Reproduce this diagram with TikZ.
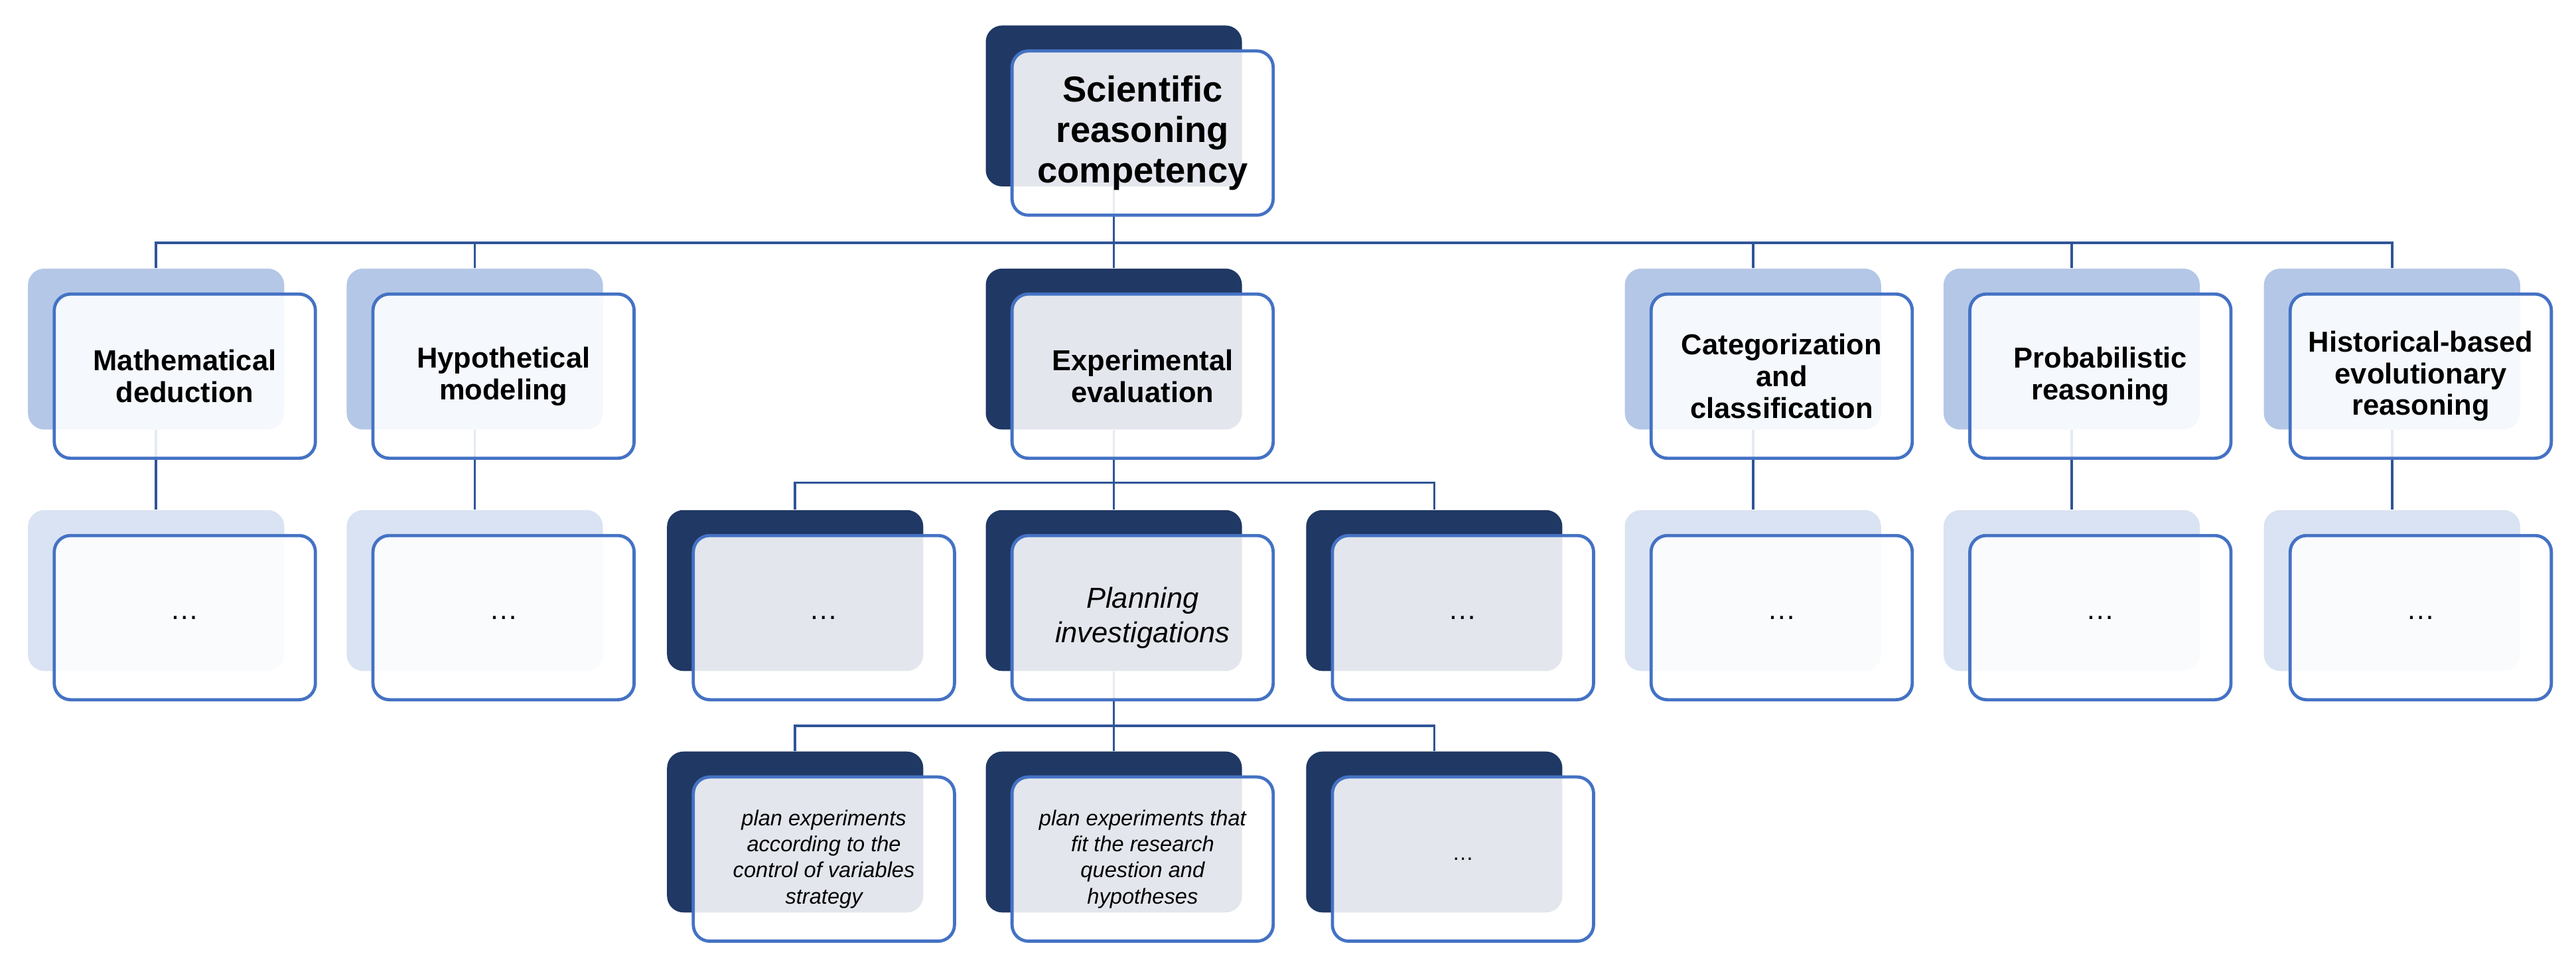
\documentclass[tikz,border=0pt]{standalone}
\usepackage{fontspec}
\setmainfont{Liberation Sans}
\usetikzlibrary{positioning,calc}
\definecolor{navyback}{HTML}{203864}
\definecolor{paleback}{HTML}{B4C7E7}
\definecolor{faintback}{HTML}{DAE3F3}
\definecolor{frameblue}{HTML}{4472C4}
\definecolor{linkblue}{HTML}{2F5597}
\begin{document}
\begin{tikzpicture}[x=0.02cm,y=-0.02cm,
back/.style={rectangle,rounded corners=0.2cm,minimum width=3.12cm,minimum height=1.96cm,inner sep=0pt},
front/.style={rectangle,rounded corners=0.2cm,minimum width=3.18cm,minimum height=2cm,draw=frameblue,line width=1.1pt,fill=white,fill opacity=0.88,text opacity=1,align=center,inner sep=2pt},
link/.style={draw=linkblue,line width=0.85pt},
head/.style={font=\bfseries\fontsize{10}{11}\selectfont},
leaf/.style={font=\itshape\fontsize{7.5}{9}\selectfont}]
\useasboundingbox (0,0) rectangle (1568,589);

% back boxes
\node[back,fill=navyback] (b-root) at (678,64.5) {};
\foreach \n/\x/\c in {math/95/paleback,hypo/289/paleback,expe/678/navyback,cate/1067/paleback,prob/1261/paleback,hist/1456/paleback}
  \node[back,fill=\c] (b-\n) at (\x,212.5) {};
\foreach \n/\x/\c in {math2/95/faintback,hypo2/289/faintback,left/484/navyback,plan/678/navyback,right/873/navyback,cate2/1067/faintback,prob2/1261/faintback,hist2/1456/faintback}
  \node[back,fill=\c] (b-\n) at (\x,359.5) {};
\foreach \n/\x in {ctrl/484,fit/678,more/873}
  \node[back,fill=navyback] (b-\n) at (\x,506.5) {};

% connectors
\foreach \n in {math,hypo,expe,cate,prob,hist}
  \draw[link] (b-root.south) -- ++(0,34) -| (b-\n.north);
\foreach \n in {math,hypo,cate,prob,hist}
  \draw[link] (b-\n.south) -- (b-\n2.north);
\foreach \n in {left,plan,right}
  \draw[link] (b-expe.south) -- ++(0,32) -| (b-\n.north);
\foreach \n in {ctrl,fit,more}
  \draw[link] (b-plan.south) -- ++(0,33) -| (b-\n.north);

% front boxes
\node[front,font=\bfseries\fontsize{12.5}{14}\selectfont] (f-root) at ($(b-root)+(17.5,16.5)$) {Scientific\\reasoning\\competency};
\node[front,head] (f-math) at ($(b-math)+(17.5,16.5)$) {Mathematical\\deduction};
\node[front,head] (f-hypo) at ($(b-hypo)+(17.5,16.5)$) {Hypothetical\\modeling};
\node[front,head] (f-expe) at ($(b-expe)+(17.5,16.5)$) {Experimental\\evaluation};
\node[front,head] (f-cate) at ($(b-cate)+(17.5,16.5)$) {Categorization\\and\\classification};
\node[front,head] (f-prob) at ($(b-prob)+(17.5,16.5)$) {Probabilistic\\reasoning};
\node[front,head] (f-hist) at ($(b-hist)+(17.5,16.5)$) {Historical-based\\evolutionary\\reasoning};
\foreach \n in {math2,hypo2,left,right,cate2,prob2,hist2}
  \node[front,font=\fontsize{10}{11}\selectfont] (f-\n) at ($(b-\n)+(17.5,16.5)$) {\dots};
\node[front,font=\itshape\fontsize{10}{12}\selectfont] (f-plan) at ($(b-plan)+(17.5,16.5)$) {Planning\\investigations};
\node[front,leaf] (f-ctrl) at ($(b-ctrl)+(17.5,16.5)$) {plan experiments\\according to the\\control of variables\\strategy};
\node[front,leaf] (f-fit) at ($(b-fit)+(17.5,16.5)$) {plan experiments that\\fit the research\\question and\\hypotheses};
\node[front,font=\fontsize{7.5}{9}\selectfont] (f-more) at ($(b-more)+(17.5,16.5)$) {\dots};
\end{tikzpicture}
\end{document}
